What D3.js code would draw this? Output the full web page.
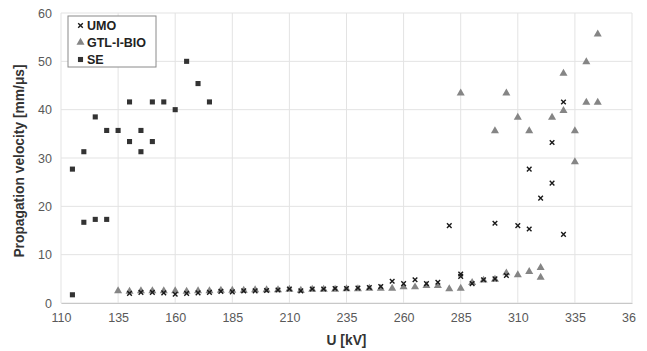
<!DOCTYPE html>
<html>
<head>
<meta charset="utf-8">
<script src="https://cdn.jsdelivr.net/npm/d3@7"></script>
<style>
  body { margin: 0; background: #fff; }
  text { font-family: "Liberation Sans", Arial, sans-serif; }
</style>
</head>
<body>
<div id="chart"></div>
<script>
// U [kV] and propagation velocity [mm/us]
var umoU = [140, 145, 150, 155, 160, 165, 170, 175, 180, 185, 190, 195, 200, 205, 210, 215, 220, 225, 230, 235,
  240, 245, 250, 255, 260, 265, 270, 275, 280, 285, 285, 290, 295, 300, 300, 305, 310, 315, 315, 320, 325, 325, 330, 330];
var umoV = [2.0, 2.2, 2.2, 2.1, 1.8, 2.0, 2.1, 2.2, 2.4, 2.3, 2.5, 2.5, 2.6, 2.7, 2.9, 2.5, 2.9, 2.9, 3.0, 3.0,
  3.1, 3.2, 3.4, 4.5, 4.0, 4.8, 4.0, 4.3, 16.0, 5.5, 6.0, 4.0, 4.8, 16.5, 5.0, 5.7, 16.0, 27.7, 15.3, 21.7, 33.2, 24.8, 41.6, 14.2];

var gtlU = [135, 140, 145, 150, 155, 160, 165, 170, 175, 180, 185, 190, 195, 200, 205, 210, 215, 220, 225, 230,
  235, 240, 245, 250, 255, 260, 265, 270, 275, 280, 285, 290, 295, 300, 305, 310, 315, 320, 320,
  285, 300, 305, 310, 315, 325, 330, 330, 335, 335, 340, 340, 345, 345];
var gtlV = [2.5, 2.4, 2.5, 2.5, 2.5, 2.5, 2.4, 2.5, 2.5, 2.6, 2.6, 2.6, 2.7, 2.7, 2.7, 2.8, 2.6, 2.8, 2.8, 2.8,
  2.9, 2.9, 3.0, 3.0, 3.0, 3.3, 3.3, 3.6, 3.6, 2.9, 3.0, 4.2, 4.7, 4.9, 6.2, 5.8, 6.5, 7.3, 5.3,
  43.4, 35.6, 43.4, 38.4, 35.6, 38.4, 47.5, 39.8, 35.6, 29.2, 49.9, 41.5, 55.6, 41.5];

var seU = [115, 115, 120, 120, 125, 125, 130, 130, 135, 140, 140, 145, 145, 150, 150, 155, 160, 165, 170, 175];
var seV = [27.7, 1.7, 31.3, 16.7, 38.5, 17.3, 35.7, 17.3, 35.7, 41.6, 33.4, 35.7, 31.3, 41.6, 33.4, 41.6, 40.0, 50.0, 45.4, 41.6];

var xTicks = [110, 135, 160, 185, 210, 235, 260, 285, 310, 335, 360];
var yTicks = [0, 10, 20, 30, 40, 50, 60];

var margin = { top: 13, right: 4, bottom: 48, left: 61 };
// svg ends a few px past the plot, so the last tick label is cut like in the source image
var svg = d3.select("#chart").append("svg")
  .attr("width", 636)
  .attr("height", 351);

var width = 632 - margin.left;
var height = 351 - margin.top - margin.bottom;

var g = svg.append("g").attr("transform", "translate(" + margin.left + "," + margin.top + ")");

var x = d3.scaleLinear().domain([110, 360]).range([0, width]);
var y = d3.scaleLinear().domain([0, 60]).range([height, 0]);

// grid
g.append("g").selectAll("line").data(yTicks).enter().append("line")
  .attr("x1", 0).attr("x2", width)
  .attr("y1", function (d) { return y(d); }).attr("y2", function (d) { return y(d); })
  .attr("stroke", "#e3e3e3");
g.append("g").selectAll("line").data(xTicks).enter().append("line")
  .attr("y1", 0).attr("y2", height)
  .attr("x1", function (d) { return x(d); }).attr("x2", function (d) { return x(d); })
  .attr("stroke", "#e3e3e3");

// axes
var xAxis = g.append("g")
  .attr("transform", "translate(0," + height + ")")
  .call(d3.axisBottom(x).tickValues(xTicks).tickSize(0).tickPadding(10));
xAxis.select(".domain").attr("stroke", "#c8c8c8");
xAxis.selectAll("text").attr("font-size", 12.5).attr("fill", "#595959");

var yAxis = g.append("g")
  .call(d3.axisLeft(y).tickValues(yTicks).tickSize(0).tickPadding(9));
yAxis.select(".domain").remove();
yAxis.selectAll("text").attr("font-size", 12.5).attr("fill", "#595959");

svg.append("text")
  .attr("x", margin.left + width / 2).attr("y", 345)
  .attr("text-anchor", "middle")
  .attr("font-size", 13.8).attr("font-weight", "bold").attr("fill", "#333")
  .text("U [kV]");

svg.append("text")
  .attr("transform", "translate(24,161) rotate(-90)")
  .attr("text-anchor", "middle")
  .attr("font-size", 13.8).attr("font-weight", "bold").attr("fill", "#333")
  .text("Propagation velocity [mm/μs]");

// markers
var tri = d3.symbol().type(d3.symbolTriangle).size(28);
var sq = d3.symbol().type(d3.symbolSquare).size(26);

function cross(px, py, r) {
  return "M" + (px - r) + "," + (py - r) + "L" + (px + r) + "," + (py + r) +
    "M" + (px - r) + "," + (py + r) + "L" + (px + r) + "," + (py - r);
}

g.append("g").selectAll("path").data(seU).enter().append("path")
  .attr("d", sq)
  .attr("transform", function (d, i) { return "translate(" + x(d) + "," + y(seV[i]) + ")"; })
  .attr("fill", "#333");

g.append("g").selectAll("path").data(gtlU).enter().append("path")
  .attr("d", tri)
  .attr("transform", function (d, i) { return "translate(" + x(d) + "," + y(gtlV[i]) + ")"; })
  .attr("fill", "#858585");

g.append("g").selectAll("path").data(umoU).enter().append("path")
  .attr("d", function (d, i) { return cross(x(d), y(umoV[i]), 2.3); })
  .attr("fill", "none")
  .attr("stroke", "#1a1a1a")
  .attr("stroke-width", 1.4);

// legend
var lg = svg.append("g").attr("transform", "translate(68,16)");
lg.append("rect")
  .attr("width", 88).attr("height", 51)
  .attr("fill", "#fff").attr("stroke", "#8a8a8a").attr("stroke-width", 1);
var items = ["UMO", "GTL-I-BIO", "SE"];
items.forEach(function (name, i) {
  var cy = 9.5 + i * 17;
  if (i === 0) {
    lg.append("path").attr("d", cross(12.5, cy, 2.3))
      .attr("stroke", "#1a1a1a").attr("stroke-width", 1.4).attr("fill", "none");
  } else if (i === 1) {
    lg.append("path").attr("d", tri).attr("transform", "translate(12.5," + cy + ")").attr("fill", "#858585");
  } else {
    lg.append("path").attr("d", sq).attr("transform", "translate(12.5," + cy + ")").attr("fill", "#333");
  }
  lg.append("text")
    .attr("x", 19).attr("y", cy + 4.5)
    .attr("font-size", 12.5).attr("font-weight", "bold").attr("fill", "#222")
    .text(name);
});
</script>
</body>
</html>
